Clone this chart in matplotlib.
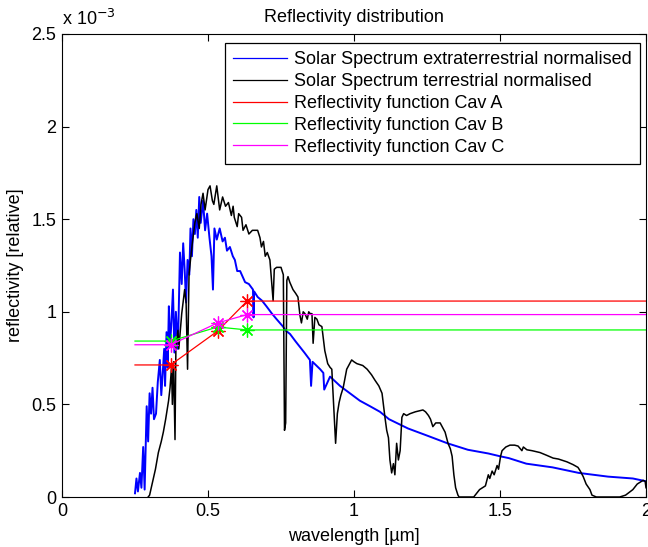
import numpy as np
import matplotlib
matplotlib.use('Agg')
import matplotlib.pyplot as plt
from matplotlib.ticker import FuncFormatter

plt.rcParams['font.family'] = ['Liberation Sans', 'DejaVu Sans']

# extraterrestrial spectrum, wavelength in um, values in units of 1e-3
wl_ext = [0.25, 0.255, 0.26, 0.267, 0.272, 0.278, 0.283, 0.29, 0.295, 0.30,
          0.305, 0.31, 0.315, 0.322, 0.328, 0.335, 0.34, 0.345, 0.35, 0.353,
          0.358, 0.362, 0.366, 0.37, 0.375, 0.38, 0.385, 0.39, 0.397, 0.404,
          0.41, 0.415, 0.42, 0.425, 0.43, 0.436, 0.44, 0.445, 0.45, 0.455,
          0.46, 0.465, 0.47, 0.475, 0.483, 0.49, 0.497, 0.505, 0.512, 0.517,
          0.522, 0.53, 0.54, 0.55, 0.558, 0.565, 0.575, 0.585, 0.592, 0.60,
          0.61, 0.627, 0.64, 0.654, 0.656, 0.658, 0.67, 0.685, 0.70, 0.719,
          0.735, 0.757, 0.765, 0.781, 0.80, 0.815, 0.83, 0.849, 0.853, 0.858,
          0.884, 0.895, 0.898, 0.918, 0.952, 0.986, 1.02, 1.055, 1.089, 1.12,
          1.185, 1.253, 1.32, 1.39, 1.46, 1.50, 1.53, 1.59, 1.68, 1.77,
          1.87, 1.955, 2.0]
ext = [0.02, 0.10, 0.03, 0.13, 0.05, 0.27, 0.04, 0.49, 0.30, 0.56,
       0.45, 0.59, 0.42, 0.45, 0.62, 0.74, 0.55, 0.67, 0.80, 0.60,
       0.89, 0.70, 1.03, 0.82, 0.95, 1.12, 0.78, 1.00, 0.80, 1.32,
       1.15, 1.37, 1.23, 1.05, 1.28, 1.20, 1.45, 1.30, 1.50, 1.42,
       1.55, 1.40, 1.62, 1.48, 1.60, 1.44, 1.53, 1.40, 1.30, 1.12,
       1.45, 1.39, 1.45, 1.38, 1.40, 1.33, 1.35, 1.30, 1.28, 1.22,
       1.22, 1.16, 1.15, 1.12, 0.97, 1.11, 1.08, 1.06, 1.03, 0.99,
       0.96, 0.92, 0.90, 0.88, 0.84, 0.81, 0.78, 0.74, 0.60, 0.73,
       0.69, 0.67, 0.58, 0.65, 0.60, 0.56, 0.52, 0.49, 0.46, 0.42,
       0.37, 0.33, 0.29, 0.255, 0.235, 0.22, 0.21, 0.18, 0.16, 0.13,
       0.11, 0.10, 0.085]

# terrestrial spectrum, same units
wl_ter = [0.295, 0.30, 0.31, 0.32, 0.33, 0.34, 0.347, 0.355, 0.36, 0.365,
          0.37, 0.375, 0.378, 0.382, 0.387, 0.39, 0.397, 0.40, 0.41, 0.42,
          0.425, 0.43, 0.435, 0.44, 0.447, 0.455, 0.462, 0.47, 0.476, 0.483,
          0.49, 0.50, 0.507, 0.515, 0.52, 0.53, 0.54, 0.55, 0.56, 0.57,
          0.58, 0.586, 0.59, 0.60, 0.605, 0.615, 0.62, 0.63, 0.64, 0.652,
          0.67, 0.678, 0.683, 0.69, 0.696, 0.703, 0.712, 0.72, 0.723, 0.727,
          0.735, 0.75, 0.758, 0.762, 0.766, 0.77, 0.774, 0.78, 0.791, 0.80,
          0.808, 0.815, 0.82, 0.826, 0.832, 0.84, 0.845, 0.85, 0.856, 0.86,
          0.866, 0.873, 0.88, 0.89, 0.90, 0.91, 0.918, 0.924, 0.93, 0.937,
          0.943, 0.949, 0.955, 0.963, 0.97, 0.975, 0.985, 0.992, 1.00, 1.01,
          1.03, 1.045, 1.06, 1.072, 1.085, 1.096, 1.106, 1.112, 1.118, 1.123,
          1.129, 1.135, 1.14, 1.146, 1.152, 1.158, 1.164, 1.17, 1.18, 1.192,
          1.21, 1.236, 1.245, 1.255, 1.262, 1.27, 1.28, 1.295, 1.305, 1.312,
          1.322, 1.33, 1.336, 1.342, 1.348, 1.356, 1.36, 1.41, 1.43, 1.45,
          1.46, 1.465, 1.473, 1.48, 1.49, 1.495, 1.502, 1.507, 1.52, 1.534,
          1.55, 1.562, 1.575, 1.58, 1.592, 1.61, 1.637, 1.66, 1.682, 1.70,
          1.729, 1.75, 1.767, 1.775, 1.785, 1.795, 1.808, 1.815, 1.83, 1.91,
          1.93, 1.955, 1.97, 1.98, 1.99, 1.997, 2.0]
ter = [0.0, 0.01, 0.08, 0.15, 0.24, 0.30, 0.35, 0.42, 0.47, 0.52,
       0.59, 0.70, 0.50, 0.73, 0.31, 0.80, 0.90, 0.80, 0.99, 1.12,
       1.05, 0.69, 1.20, 1.28, 1.38, 1.48, 1.53, 1.45, 1.58, 1.64,
       1.55, 1.66, 1.68, 1.60, 1.58, 1.68, 1.55, 1.62, 1.57, 1.59,
       1.52, 1.57, 1.51, 1.46, 1.53, 1.51, 1.44, 1.47, 1.42, 1.44,
       1.44, 1.40, 1.35, 1.38, 1.30, 1.32, 1.28, 1.12, 1.06, 1.23,
       1.24, 1.24, 1.20, 0.36, 0.40, 1.17, 1.19, 1.16, 1.12, 1.10,
       1.08, 0.98, 0.94, 1.00, 0.99, 0.96, 1.00, 0.99, 0.99, 0.83,
       0.97, 0.96, 0.93, 0.92, 0.79, 0.72, 0.70, 0.69, 0.50, 0.29,
       0.45, 0.51, 0.55, 0.59, 0.65, 0.69, 0.72, 0.74, 0.73, 0.72,
       0.71, 0.69, 0.66, 0.63, 0.60, 0.56, 0.43, 0.36, 0.32, 0.20,
       0.13, 0.18, 0.12, 0.29, 0.20, 0.25, 0.43, 0.45, 0.44, 0.45,
       0.46, 0.47, 0.46, 0.44, 0.42, 0.38, 0.40, 0.40, 0.37, 0.35,
       0.29, 0.26, 0.22, 0.12, 0.05, 0.01, 0.0, 0.0, 0.04, 0.06,
       0.12, 0.10, 0.14, 0.12, 0.17, 0.15, 0.22, 0.25, 0.27, 0.28,
       0.28, 0.275, 0.25, 0.27, 0.255, 0.25, 0.24, 0.225, 0.21, 0.205,
       0.19, 0.175, 0.16, 0.14, 0.11, 0.07, 0.04, 0.01, 0.0, 0.0,
       0.01, 0.04, 0.07, 0.08, 0.09, 0.085, 0.05]

# reflectivity functions: flat from 0.25 um, three measured points, flat to 2 um
wl_refl = [0.25, 0.372, 0.533, 0.634, 2.0]
refl_a = [0.713, 0.713, 0.896, 1.058, 1.058]
refl_b = [0.842, 0.842, 0.918, 0.902, 0.902]
refl_c = [0.822, 0.822, 0.940, 0.985, 0.985]

scale = 1e-3
fs = 13

fig = plt.figure(figsize=(6.48, 5.47), dpi=100)
ax = fig.add_axes([62 / 648, 1 - 497 / 547, 584 / 648, 463 / 547])

ax.plot(wl_ext, np.array(ext) * scale, color='b', lw=1.4,
        label='Solar Spectrum extraterrestrial normalised')
ax.plot(wl_ter, np.array(ter) * scale, color='k', lw=1.1,
        label='Solar Spectrum terrestrial normalised')
star = (8, 2, 0)
ax.plot(wl_refl, np.array(refl_a) * scale, color='r', lw=0.9, marker=star,
        ms=10, mew=0.9, markevery=[1, 2, 3], label='Reflectivity function Cav A')
ax.plot(wl_refl, np.array(refl_b) * scale, color=(0, 1, 0), lw=0.9, marker=star,
        ms=10, mew=0.9, markevery=[1, 2, 3], label='Reflectivity function Cav B')
ax.plot(wl_refl, np.array(refl_c) * scale, color=(1, 0, 1), lw=0.9, marker=star,
        ms=10, mew=0.9, markevery=[1, 2, 3], label='Reflectivity function Cav C')

ax.set_xlim(0, 2)
ax.set_ylim(0, 2.5e-3)
ax.set_xticks([0, 0.5, 1, 1.5, 2])
ax.set_yticks(np.arange(0, 2.51e-3, 0.5e-3))
ax.yaxis.set_major_formatter(FuncFormatter(lambda v, p: '%g' % round(v / scale, 3)))
ax.xaxis.set_major_formatter(FuncFormatter(lambda v, p: '%g' % v))
ax.tick_params(direction='in', top=True, right=True, length=5, width=0.8,
               labelsize=fs, pad=4)
for s in ax.spines.values():
    s.set_linewidth(0.8)

ax.text(0.0, 1.01, r'x 10$^{-3}$', transform=ax.transAxes, fontsize=fs,
        ha='left', va='bottom')
ax.set_title('Reflectivity distribution', fontsize=fs, pad=9)
ax.set_xlabel('wavelength [\u00b5m]', fontsize=fs, labelpad=6)
ax.set_ylabel('reflectivity [relative]', fontsize=fs, labelpad=5)

leg = ax.legend(loc='upper right', bbox_to_anchor=(578 / 584, 454 / 463),
                borderaxespad=0, fontsize=fs, fancybox=False, framealpha=1,
                edgecolor='k', handlelength=3.0, labelspacing=0.27,
                borderpad=0.45, handletextpad=0.4)
leg.get_frame().set_linewidth(0.9)
for h in leg.get_lines():
    h.set_marker('')
    h.set_linewidth(0.9)

fig.savefig('out.png', dpi=100)
